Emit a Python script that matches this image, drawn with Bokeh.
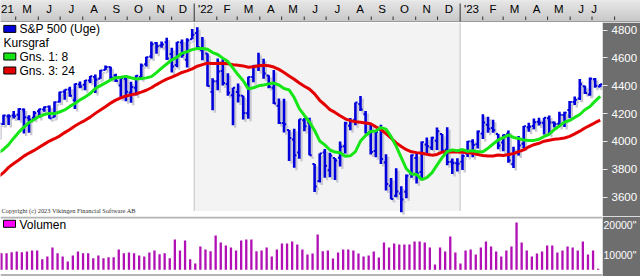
import datetime as dt
from bokeh.plotting import figure
from bokeh.layouts import column
from bokeh.models import Range1d, FixedTicker, ColumnDataSource, Span
from bokeh.core.properties import value
from bokeh.embed import file_html
from bokeh.resources import INLINE

# ---------------- data (weekly S&P 500, week index 0 = week of 2021-04-05) ----------------
first_week = dt.date(2021, 4, 5)

opens = [4034, 4125, 4180, 4185, 4192, 4228, 4169, 4170, 4216, 4229, 4249,
         4173, 4285, 4356, 4372, 4296, 4409, 4406, 4437, 4462, 4450,
         4513, 4535, 4474, 4402, 4450, 4349, 4385, 4463, 4554, 4610,
         4707, 4689, 4712, 4628, 4548, 4710, 4587, 4733, 4778, 4655,
         4632, 4357, 4432, 4506, 4412, 4332, 4354, 4327, 4202, 4462,
         4541, 4547, 4474, 4385, 4255, 4131, 4081, 4013, 3920, 4151,
         4134, 3838, 3715, 3920, 3793, 3880, 3883, 3965, 4113, 4155,
         4269, 4195, 4067, 3930, 4084, 3849, 3682, 3609, 3626, 3638,
         3765, 3881, 3780, 3977, 3956, 4005, 4053, 3939, 3853, 3843,
         3853, 3911, 3999, 3979, 4057, 4120, 4096, 4052, 3992, 4055,
         3835, 3917, 3982, 4102, 4110, 4140, 4134, 4166, 4136, 4126,
         4190, 4226, 4282, 4308, 4396, 4337, 4447, 4394]

highs = [4129, 4191, 4194, 4219, 4238, 4236, 4188, 4218, 4234, 4250, 4257,
         4286, 4356, 4372, 4393, 4415, 4430, 4440, 4469, 4480, 4513,
         4545, 4536, 4486, 4466, 4476, 4429, 4475, 4560, 4608, 4718,
         4714, 4718, 4744, 4672, 4713, 4731, 4740, 4808, 4819, 4749,
         4632, 4453, 4595, 4590, 4490, 4385, 4416, 4327, 4465, 4546,
         4637, 4594, 4475, 4513, 4308, 4307, 4081, 4090, 4158, 4168,
         4169, 3838, 3913, 3946, 3918, 3880, 3999, 4141, 4167, 4280,
         4325, 4218, 4120, 4076, 4119, 3907, 3737, 3807, 3677, 3762,
         3906, 3911, 3999, 4028, 4034, 4100, 4053, 4101, 3876, 3878,
         3907, 4003, 4015, 4078, 4195, 4176, 4156, 4052, 4049, 4078,
         3962, 4039, 4110, 4133, 4164, 4170, 4170, 4186, 4143, 4212,
         4212, 4290, 4322, 4448, 4400, 4458, 4456, 4412]

lows = [4034, 4118, 4118, 4165, 4152, 4057, 4061, 4156, 4168, 4213, 4164,
        4173, 4279, 4299, 4321, 4233, 4381, 4367, 4419, 4347, 4450,
        4513, 4445, 4427, 4306, 4289, 4278, 4329, 4447, 4537, 4596,
        4630, 4672, 4585, 4495, 4532, 4600, 4531, 4733, 4662, 4582,
        4395, 4223, 4367, 4401, 4327, 4115, 4280, 4157, 4162, 4424,
        4506, 4450, 4381, 4268, 4124, 4063, 3859, 3810, 3875, 4073,
        3901, 3637, 3705, 3738, 3743, 3722, 3820, 3913, 4079, 4115,
        4218, 4057, 3906, 3886, 3837, 3647, 3584, 3598, 3491, 3591,
        3739, 3698, 3736, 3906, 3938, 3938, 3918, 3828, 3765, 3784,
        3794, 3888, 3886, 3949, 4017, 4061, 4061, 3943, 3929, 3847,
        3809, 3899, 3951, 4069, 4087, 4114, 4049, 4048, 4099, 4103,
        4103, 4166, 4261, 4298, 4341, 4328, 4385, 4389]

closes = [4129, 4185, 4180, 4181, 4233, 4174, 4156, 4204, 4230, 4247, 4166,
          4281, 4352, 4370, 4327, 4412, 4395, 4437, 4468, 4442, 4509,
          4535, 4459, 4433, 4455, 4357, 4391, 4471, 4545, 4605, 4697,
          4683, 4698, 4595, 4538, 4712, 4620, 4726, 4766, 4677, 4663,
          4398, 4432, 4501, 4419, 4349, 4385, 4329, 4204, 4463, 4543,
          4546, 4488, 4393, 4272, 4132, 4123, 4024, 3901, 4158, 4109,
          3901, 3675, 3912, 3825, 3899, 3863, 3962, 4130, 4145, 4280,
          4228, 4058, 3924, 4067, 3873, 3693, 3586, 3640, 3583, 3753,
          3901, 3771, 3993, 3965, 4026, 4072, 3934, 3852, 3845, 3840,
          3895, 3999, 3973, 4071, 4136, 4090, 4079, 3970, 4046, 3862,
          3917, 3971, 4109, 4105, 4138, 4133, 4169, 4136, 4124, 4192,
          4205, 4282, 4299, 4410, 4348, 4450, 4399, 4410]

ma8 = [3918, 3942, 3977, 4023, 4066, 4102, 4135, 4157, 4180, 4193, 4201,
       4199, 4211, 4226, 4251, 4272, 4298, 4319, 4343, 4380, 4400,
       4420, 4441, 4457, 4460, 4467, 4457, 4448, 4451, 4456, 4465,
       4494, 4526, 4556, 4586, 4604, 4634, 4644, 4659, 4667, 4667,
       4662, 4638, 4624, 4598, 4573, 4526, 4478, 4435, 4377, 4385,
       4399, 4405, 4413, 4419, 4405, 4380, 4370, 4315, 4235, 4186,
       4139, 4078, 4003, 3975, 3938, 3923, 3918, 3893, 3896, 3926,
       4002, 4042, 4071, 4074, 4099, 4088, 4034, 3964, 3884, 3803,
       3765, 3762, 3725, 3740, 3774, 3829, 3883, 3927, 3939, 3932,
       3941, 3929, 3933, 3926, 3926, 3951, 3981, 4010, 4027, 4046,
       4028, 4021, 4009, 4006, 4007, 4015, 4035, 4051, 4085, 4111,
       4138, 4150, 4172, 4193, 4227, 4250, 4289, 4323]

ma24 = [3747, 3775, 3813, 3841, 3866, 3894, 3916, 3935, 3958, 3980, 4002,
        4019, 4038, 4063, 4085, 4110, 4132, 4151, 4174, 4201, 4226,
        4249, 4275, 4296, 4313, 4326, 4334, 4342, 4354, 4367, 4385,
        4408, 4428, 4447, 4462, 4477, 4495, 4506, 4521, 4540, 4551,
        4562, 4560, 4559, 4561, 4557, 4550, 4547, 4542, 4532, 4536,
        4543, 4546, 4543, 4534, 4517, 4494, 4470, 4446, 4419, 4396,
        4375, 4341, 4295, 4263, 4228, 4208, 4184, 4162, 4149, 4141,
        4137, 4132, 4126, 4104, 4084, 4056, 4023, 3989, 3963, 3940,
        3925, 3919, 3914, 3907, 3901, 3906, 3923, 3924, 3925, 3923,
        3922, 3919, 3914, 3906, 3898, 3894, 3895, 3902, 3898, 3905,
        3912, 3926, 3939, 3961, 3976, 3986, 4001, 4008, 4015, 4019,
        4024, 4036, 4054, 4073, 4096, 4115, 4134, 4152]

volume = [10800,
          10550, 10550, 10890, 11120, 10890, 11120, 11450, 11450, 8530, 9430,
          12470, 10550, 9430, 7740, 9760, 11120, 10550, 10550, 8860, 9760,
          8860, 9200, 9200, 11790, 10550, 10780, 10550, 9760, 9430, 10780,
          11450, 10210, 10550, 8860, 15170, 11450, 14830, 8530, 7060, 12800,
          11790, 11230,
          16520, 14160, 13140, 12470, 11450, 14830, 15170, 15170, 11230, 11450,
          12470, 9430, 11790, 13820, 13820, 14490, 13480, 11790, 10100, 10440,
          16860, 11230, 11450, 8750, 10780, 11790, 11790, 11450, 10440, 9430,
          9760, 11120, 9090, 14160, 12470, 13820, 13480, 13480, 13480, 14490,
          14490,
          14160, 12470, 6720, 12470, 11120, 16180, 10780, 7060, 11450, 11790,
          10100, 12470, 14490, 12800, 11120, 9430, 11450, 12800, 20910, 14160,
          11450, 9430, 10440, 11120, 13140, 13140, 10780, 11450, 12800, 12470,
          11450, 14490, 10100, 11450, 5260]

month_labels = ["21", "M", "J", "J", "A", "S", "O", "N", "D",
                "'22", "F", "M", "A", "M", "J", "J", "A", "S", "O", "N", "D",
                "'23", "F", "M", "A", "M", "J", "J"]
price_ticks = [3600, 3800, 4000, 4200, 4400, 4600, 4800]
volume_ticks = [10000, 20000]
volume_tick_labels = ['10000"', '20000"']
legend_labels = ["S&P 500 (Uge)", "Kursgraf", "Gns. 1: 8", "Gns. 3: 24"]

# ---------------- layout constants ----------------
FONT = value("Liberation Sans")
PXW = 5.1                     # pixels per week
FW = 602                      # frame width
x_start = 2.1 / PXW
x_end = x_start + FW / PXW
PPU = 0.1392                  # price px per point
P_TOP = 4800 + (29.5 - 22) / PPU
P_BOT = 4800 - (216 - 29.5) / PPU
VPU = 29.6 / 10000            # volume px per unit
V_TOP = 20000 + (224.7 - 216) / VPU
V_BOT = 10000 - (276 - 254.3) / VPU
V_BASE = 10000 - (269.3 - 254.3) / VPU


def px2x(px):
    return x_start + px / PXW


def py2p(py):
    return 4800 - (py - 29.5) / PPU


def py2v(py):
    return 10000 - (py - 254.3) / VPU


def wpos(d):
    return (d - first_week).days / 7.0 - 0.32


n = len(closes)
idx = list(range(n))

# ---------------- header (month axis) ----------------
hdr = figure(frame_width=640, frame_height=22, x_range=Range1d(x_start, x_start + 640 / PXW),
             y_range=Range1d(22, 0), toolbar_location=None, output_backend="svg",
             min_border=0, x_axis_location=None, y_axis_location=None,
             outline_line_color=None, background_fill_color="#d6d6d6", border_fill_color="#d6d6d6")
hdr.grid.visible = False

band_top = list(range(21))
band_bot = [r + 1 for r in band_top]
band_col = []
for r in band_top:
    c = int(236 - (236 - 196) * r / 20)
    band_col.append("#%02x%02x%02x" % (c, c, c))
hdr.quad(left=x_start, right=x_start + 640 / PXW, top=band_top, bottom=band_bot,
         fill_color=band_col, line_color=None)
hdr.quad(left=x_start, right=x_start + 640 / PXW, top=[20.6], bottom=[22],
         fill_color="#9a9a9a", line_color=None)

month_starts = []
y, m = 2021, 4
while (y, m) <= (2023, 8):
    month_starts.append(dt.date(y, m, 1))
    m += 1
    if m > 12:
        m = 1
        y += 1
ms_pos = [wpos(d) for d in month_starts]
tick_x = [p for d, p in zip(month_starts, ms_pos) if d.month != 1]
hdr.segment(x0=tick_x, y0=16, x1=tick_x, y1=19.5, line_color="#303030", line_width=1)
yr_x = [p for d, p in zip(month_starts, ms_pos) if d.month == 1]
hdr.segment(x0=yr_x, y0=3, x1=yr_x, y1=21, line_color="#303030", line_width=1)

lab_x = [(ms_pos[i] + ms_pos[i + 1]) / 2 for i in range(len(month_labels))]
lab_x[0] = px2x(0.5)
lab_x[-1] = ms_pos[len(month_labels) - 1] + 2 / PXW
aligns = ["left"] + ["center"] * (len(month_labels) - 1)
hdr.text(x=lab_x, y=8, text=month_labels, text_align=aligns, text_baseline="middle",
         text_font=FONT, text_font_size="11.5px", text_color="black")

# ---------------- price panel ----------------
p = figure(frame_width=FW, frame_height=194, x_range=Range1d(x_start, x_end),
           y_range=Range1d(P_BOT, P_TOP), toolbar_location=None, output_backend="svg",
           min_border=0, min_border_right=38, x_axis_location=None, y_axis_location="right",
           outline_line_color=None, background_fill_color="white", border_fill_color="#6e6e6e")
p.grid.visible = False
ya = p.yaxis[0]
ya.ticker = FixedTicker(ticks=price_ticks)
ya.axis_line_color = None
ya.major_tick_in = 0
ya.major_tick_out = 5
ya.major_tick_line_color = "#e6e6e6"
ya.minor_tick_line_color = None
ya.major_label_text_color = "white"
ya.major_label_text_font = "Liberation Sans"
ya.major_label_text_font_size = "11.5px"
ya.major_label_standoff = 4

y22 = wpos(dt.date(2022, 1, 1))
y23 = wpos(dt.date(2023, 1, 1))
p.quad(left=[y22], right=[y23], bottom=[py2p(210.5)], top=[P_TOP], fill_color="#f3f3f3", line_color=None)
p.segment(x0=[y22, y23], y0=py2p(210.5), x1=[y22, y23], y1=P_TOP, line_color="#c2c2c2", line_width=1)

dx = 2.2 / PXW
dy = 2.5 / PPU
tk = 2.2 / PXW
src = ColumnDataSource(dict(
    x=idx, o=opens, h=highs, l=lows, c=closes,
    xs=[i + dx for i in idx], hs=[v - dy for v in highs], ls=[v - dy for v in lows],
    os=[v - dy for v in opens], cs=[v - dy for v in closes],
    xl=[i - tk for i in idx], xr=[i + tk for i in idx],
    xsl=[i - tk + dx for i in idx], xsr=[i + tk + dx for i in idx],
))
shadow = "#c8c8d2"
p.segment(x0="xs", y0="ls", x1="xs", y1="hs", source=src, line_color=shadow, line_width=2.4)
p.segment(x0="xsl", y0="os", x1="xs", y1="os", source=src, line_color=shadow, line_width=2)
p.segment(x0="xs", y0="cs", x1="xsr", y1="cs", source=src, line_color=shadow, line_width=2)
blue = "#0000dd"
p.segment(x0="x", y0="l", x1="x", y1="h", source=src, line_color=blue, line_width=2.6)
p.segment(x0="xl", y0="o", x1="x", y1="o", source=src, line_color=blue, line_width=2)
p.segment(x0="x", y0="c", x1="xr", y1="c", source=src, line_color=blue, line_width=2)

p.line(idx, ma24, line_color="#e40000", line_width=3)
p.line(idx, ma8, line_color="#16e616", line_width=3)

# legend
sw_y = [py2p(28.4), py2p(56), py2p(70)]
p.rect(x=[px2x(9.3)] * 3, y=sw_y, width=12, height=7, width_units="screen", height_units="screen",
       fill_color=["#0000dd", "#16e616", "#e40000"], line_color="black", line_width=1)
p.text(x=[px2x(19), px2x(3), px2x(19), px2x(19)],
       y=[py2p(28.4), py2p(42.6), py2p(56), py2p(70)],
       text=legend_labels, text_align="left", text_baseline="middle",
       text_font=FONT, text_font_size="12px", text_color="black")

p.text(x=[px2x(1)], y=[py2p(209.5)], text=["Copyright (c) 2023 Vikingen Financial Software AB"],
       text_align="left", text_baseline="middle", text_font=value("Liberation Serif"),
       text_font_size="6.4px", text_color="#333333")

# ---------------- volume panel ----------------
v = figure(frame_width=FW, frame_height=60, x_range=p.x_range,
           y_range=Range1d(V_BOT, V_TOP), toolbar_location=None, output_backend="svg",
           min_border=0, min_border_right=38, x_axis_location=None, y_axis_location="right",
           outline_line_color=None, background_fill_color="white", border_fill_color="#6e6e6e")
v.grid.visible = False
va = v.yaxis[0]
va.ticker = FixedTicker(ticks=volume_ticks)
va.major_label_overrides = dict(zip(volume_ticks, volume_tick_labels))
va.axis_line_color = None
va.major_tick_in = 0
va.major_tick_out = 0
va.major_tick_line_color = None
va.minor_tick_line_color = None
va.major_label_text_color = "white"
va.major_label_text_font = "Liberation Sans"
va.major_label_text_font_size = "10.5px"
va.major_label_standoff = 1

v.vbar(x=[i - 0.4 for i in idx], top=volume, bottom=V_BASE, width=2.3 / PXW,
       fill_color="#b010b4", line_color=None)
v.add_layout(Span(location=py2v(217), dimension="width", line_color="#b4b4b4", line_width=2))
v.add_layout(Span(location=py2v(274.5), dimension="width", line_color="#b4b4b4", line_width=2))
v.rect(x=[px2x(9)], y=[py2v(223.3)], width=12, height=7, width_units="screen", height_units="screen",
       fill_color="#ff00ff", line_color="black", line_width=1)
v.text(x=[px2x(19)], y=[py2v(224)], text=["Volumen"], text_align="left", text_baseline="middle",
       text_font=FONT, text_font_size="12px", text_color="black")

layout = column(hdr, p, v, spacing=0)
open("out.html", "w").write(file_html(layout, INLINE))
